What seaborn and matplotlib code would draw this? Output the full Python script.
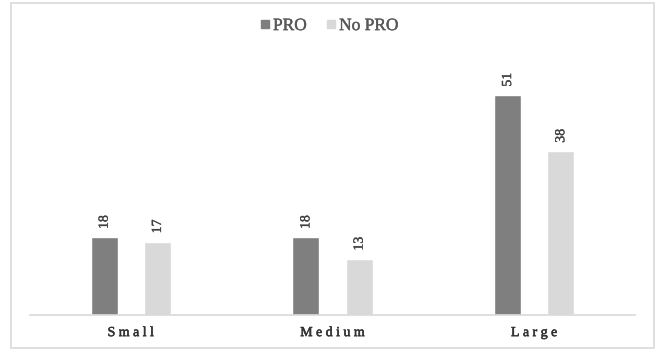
import matplotlib
matplotlib.use("Agg")
import matplotlib.pyplot as plt
import matplotlib.patheffects as pe
from matplotlib.patches import Rectangle
import seaborn as sns
import pandas as pd

categories = ["Small", "Medium", "Large"]
series_names = ["PRO", "No PRO"]
pro_values = [18, 18, 51]
no_pro_values = [17, 13, 38]
palette = {"PRO": "#7f7f7f", "No PRO": "#d9d9d9"}

df = pd.DataFrame({
    "size": categories * 2,
    "group": [series_names[0]] * 3 + [series_names[1]] * 3,
    "count": pro_values + no_pro_values,
})

sns.set_theme(style="white")
plt.rcParams["font.family"] = ["Liberation Serif", "DejaVu Serif"]


def heavy(color, width=0.5):
    # thicken the thin serif strokes a little
    return [pe.withStroke(linewidth=width, foreground=color)]


fig = plt.figure(figsize=(6.57, 3.49), dpi=100)
ax = fig.add_axes([30 / 657, 34 / 349, 605 / 657, 258.8 / 349])

sns.barplot(data=df, x="size", y="count", hue="group", order=categories,
            hue_order=series_names, palette=palette, width=0.528, gap=0.49,
            saturation=1, legend=False, ax=ax)

for container in ax.containers:
    labels = ax.bar_label(container, labels=[f"{v:g}" for v in container.datavalues],
                          rotation=90, padding=6, fontsize=10, color="#404040")
    for t in labels:
        t.set_path_effects(heavy("#404040", 0.25))

ax.set_xlim(-0.5, 2.5)
ax.set_ylim(0, 60)
ax.set_xlabel("")
ax.set_ylabel("")
ax.set_yticks([])
spaced = ["\u2005".join(c) for c in categories]
ax.set_xticks(range(len(categories)))
ax.set_xticklabels(spaced, fontsize=10, color="#333333")
for t in ax.get_xticklabels():
    t.set_path_effects(heavy("#333333", 0.4))
ax.tick_params(axis="x", length=0, pad=8)
for side in ["top", "right", "left"]:
    ax.spines[side].set_visible(False)
ax.spines["bottom"].set_color("#d9d9d9")
ax.spines["bottom"].set_linewidth(1.2)

# legend across the top
handles = [plt.Line2D([], [], marker="s", linestyle="none", markersize=6,
                      markerfacecolor=palette[n], markeredgecolor=palette[n])
           for n in series_names]
leg = fig.legend(handles, series_names, loc="center", bbox_to_anchor=(0.5, 1 - 26 / 349),
                 ncol=2, frameon=False, fontsize=12.5, labelcolor="#595959",
                 handletextpad=0.05, columnspacing=1.0, handlelength=0.8)
for t in leg.get_texts():
    t.set_path_effects(heavy("#595959", 0.3))

# outer chart border
fig.patches.append(Rectangle((10.5 / 657, 1 - 348 / 349), 643.5 / 657, 345 / 349,
                             transform=fig.transFigure, fill=False,
                             edgecolor="#d9d9d9", linewidth=1.2))

fig.savefig("out.png", dpi=100)
